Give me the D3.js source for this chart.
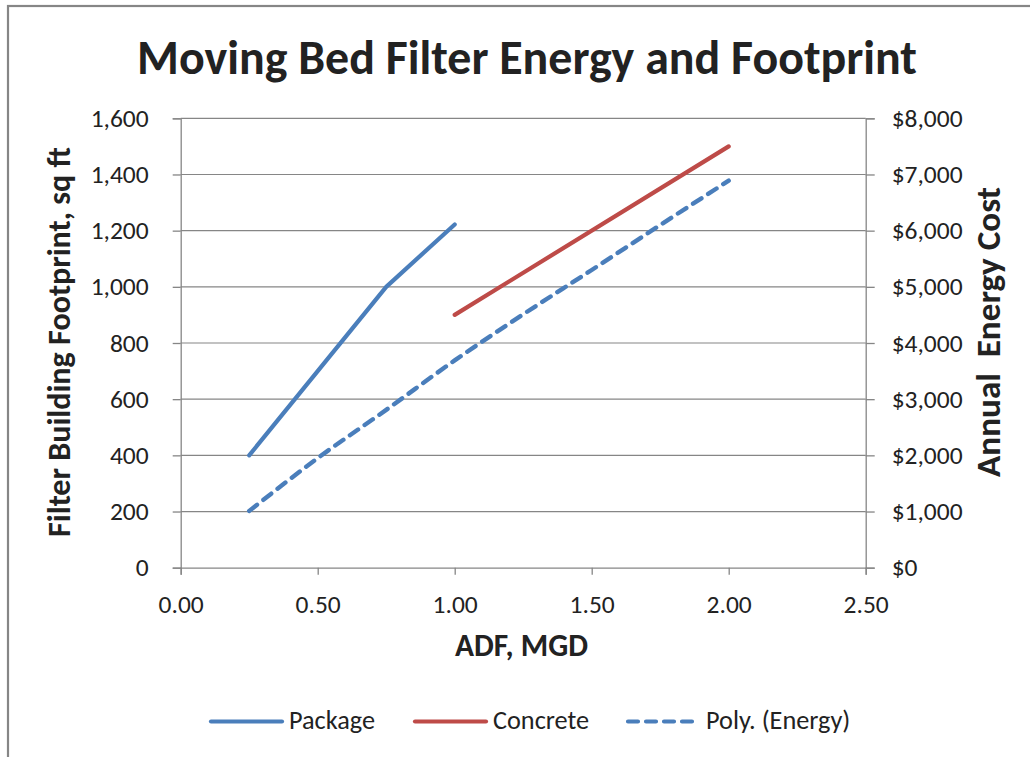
<!DOCTYPE html>
<html>
<head>
<meta charset="utf-8">
<script src="https://cdn.jsdelivr.net/npm/d3@7/dist/d3.min.js"></script>
<style>
  html, body { margin: 0; padding: 0; background: #fff; }
  svg { display: block; }
  text { font-family: Carlito, Calibri, Lato, "Open Sans", sans-serif; fill: #222; }
</style>
</head>
<body>
<svg id="chart" width="1030" height="757"></svg>
<script>
// ---- data ----
const title = "Moving Bed Filter Energy and Footprint";
const xTicks = [0, 0.5, 1.0, 1.5, 2.0, 2.5];
const leftTicks = [0, 200, 400, 600, 800, 1000, 1200, 1400, 1600];
const rightTicks = [0, 1000, 2000, 3000, 4000, 5000, 6000, 7000, 8000];

const packageX = [0.25, 0.75, 1.0];
const packageY = [400, 1000, 1222];

const concreteX = [1.0, 2.0];
const concreteY = [900, 1500];

const energyX = [0.25, 0.5, 0.75, 1.0, 1.25, 1.5, 1.75, 2.0];
const energyY = [1010, 1950, 2810, 3690, 4510, 5300, 6100, 6890];

const legendLabels = ["Package", "Concrete", "Poly. (Energy)"];

// ---- layout ----
const svg = d3.select("#chart");
const L = 180.7, R = 865.7, T = 118.3, B = 567.7;
const grey = "#868686";
const blue = "#4a7ebb", red = "#be4b48";

const x = d3.scaleLinear().domain([0, 2.5]).range([L, R]);
const yL = d3.scaleLinear().domain([0, 1600]).range([B, T]);
const yR = d3.scaleLinear().domain([0, 8000]).range([B, T]);

function fit(sel, target) {
  const w = sel.node().getComputedTextLength();
  const fs = parseFloat(sel.attr("font-size"));
  sel.attr("font-size", fs * target / w);
  return fs * target / w;
}

// frame
svg.append("rect").attr("x", 8).attr("y", 6).attr("width", 1100).attr("height", 800)
  .attr("fill", "none").attr("stroke", grey).attr("stroke-width", 2.2);

// gridlines
svg.append("g").selectAll("line").data(leftTicks.filter(d => d > 0)).join("line")
  .attr("x1", L).attr("x2", R).attr("y1", d => yL(d)).attr("y2", d => yL(d))
  .attr("stroke", grey).attr("stroke-width", 1.2);

// axes
const fmtL = d3.format(",");
const fmtR = d => "$" + d3.format(",")(d);
const fmtX = d3.format(".2f");

const gx = svg.append("g").attr("transform", `translate(0,${B})`)
  .call(d3.axisBottom(x).tickValues(xTicks).tickFormat(fmtX).tickSize(7).tickPadding(20));
const gl = svg.append("g").attr("transform", `translate(${L},0)`)
  .call(d3.axisLeft(yL).tickValues(leftTicks).tickFormat(fmtL).tickSize(8).tickPadding(24));
const gr = svg.append("g").attr("transform", `translate(${R},0)`)
  .call(d3.axisRight(yR).tickValues(rightTicks).tickFormat(fmtR).tickSize(9).tickPadding(17));

[gx, gl, gr].forEach(g => {
  g.select(".domain").attr("stroke", grey).attr("stroke-width", 1.3);
  g.selectAll(".tick line").attr("stroke", grey).attr("stroke-width", 1.3);
  g.selectAll(".tick text").attr("font-size", 22).attr("fill", "#222")
    .style("font-family", "Carlito, Calibri, Lato, sans-serif");
});
// size tick labels from the "1,600" label width
const ref = gl.selectAll(".tick text").filter(d => d === 1600);
const tfs = fit(ref, 58);
svg.selectAll(".tick text").attr("font-size", tfs);
gx.selectAll(".tick text").attr("dy", "0.71em");

// lines
const line = (xs, ys, ys2) => d3.line().x((d, i) => x(xs[i])).y((d, i) => ys2(ys[i]));
svg.append("path").datum(packageY).attr("d", line(packageX, packageY, yL))
  .attr("fill", "none").attr("stroke", blue).attr("stroke-width", 4.2)
  .attr("stroke-linecap", "round").attr("stroke-linejoin", "round");
svg.append("path").datum(concreteY).attr("d", line(concreteX, concreteY, yL))
  .attr("fill", "none").attr("stroke", red).attr("stroke-width", 4.2)
  .attr("stroke-linecap", "round").attr("stroke-linejoin", "round");
svg.append("path").datum(energyY)
  .attr("d", d3.line().curve(d3.curveMonotoneX).x((d, i) => x(energyX[i])).y(d => yR(d))(energyY))
  .attr("fill", "none").attr("stroke", blue).attr("stroke-width", 4.4)
  .attr("stroke-dasharray", "10,8").attr("stroke-linecap", "round");

// title
const tt = svg.append("text").attr("x", 527).attr("y", 74).attr("text-anchor", "middle")
  .attr("font-weight", "bold").attr("font-size", 40).attr("fill", "#000").text(title);
fit(tt, 780);

// axis titles
const xt = svg.append("text").attr("x", 521.5).attr("y", 656).attr("text-anchor", "middle")
  .attr("font-weight", "bold").attr("font-size", 26).attr("fill", "#000").text("ADF, MGD");
fit(xt, 133);

const ylt = svg.append("text").attr("transform", "translate(70,342) rotate(-90)")
  .attr("text-anchor", "middle").attr("font-weight", "bold").attr("font-size", 26)
  .attr("fill", "#000").text("Filter Building Footprint, sq ft");
fit(ylt, 390);

const yrt = svg.append("text").attr("transform", "translate(1000,332) rotate(-90)")
  .attr("text-anchor", "middle").attr("font-weight", "bold").attr("font-size", 26)
  .attr("fill", "#000").attr("xml:space", "preserve").style("white-space", "pre")
  .text("Annual  Energy Cost");
fit(yrt, 290);

// legend
const legX = [211, 415, 628];
const legColors = [blue, red, blue];
const legDash = [null, null, "10,8"];
const lg = svg.append("g");
legendLabels.forEach((lab, i) => {
  lg.append("line").attr("x1", legX[i]).attr("x2", legX[i] + 71)
    .attr("y1", 721.5).attr("y2", 721.5)
    .attr("stroke", legColors[i]).attr("stroke-width", 4.2).attr("stroke-linecap", "round")
    .attr("stroke-dasharray", legDash[i]);
  lg.append("text").attr("x", legX[i] + 78).attr("y", 729).attr("font-size", 22)
    .attr("fill", "#222").text(lab);
});
const pk = lg.selectAll("text").filter((d, i) => i === 0);
const lfs = fit(pk, 86);
lg.selectAll("text").attr("font-size", lfs);
</script>
</body>
</html>
